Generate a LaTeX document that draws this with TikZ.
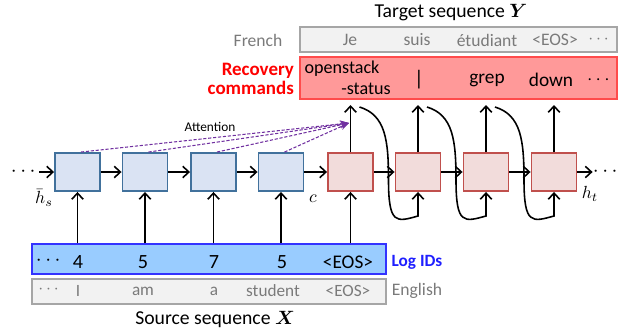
\documentclass[tikz,border=0pt]{standalone}
\usepackage{amsmath, amssymb}
\usepackage{fontspec}
\setmainfont{Carlito}
\usepackage{tikz}
\usetikzlibrary{arrows.meta}
\usetikzlibrary{positioning,calc}
\usepackage{xcolor}
\definecolor{encfill}{HTML}{DAE3F3}
\definecolor{encdraw}{HTML}{41719C}
\definecolor{decfill}{HTML}{F2DCDB}
\definecolor{decdraw}{HTML}{C0504D}
\definecolor{cmdfill}{HTML}{FF9999}
\definecolor{cmddraw}{HTML}{FF4B4B}
\definecolor{logfill}{HTML}{99CCFF}
\definecolor{logdraw}{HTML}{3333FF}
\definecolor{logtext}{HTML}{1F1FFF}
\definecolor{grayfill}{HTML}{F2F2F2}
\definecolor{graydraw}{HTML}{A6A6A6}
\definecolor{graytext}{HTML}{7A7A7A}
\definecolor{attnpurple}{HTML}{7030A0}

\begin{document}
\begin{tikzpicture}[x=0.02cm, y=-0.02cm]
  % Define styles for cells, boxes and arrows
  \tikzset{
    cell/.style={
      draw,
      rectangle,
      minimum width=0.9cm,
      minimum height=0.76cm,
      inner sep=0pt,
      line width=1.1pt
    },
    enccell/.style={cell, fill=encfill, draw=encdraw},
    deccell/.style={cell, fill=decfill, draw=decdraw},
    seqbox/.style={
      draw,
      rectangle,
      inner sep=0pt,
      line width=0.8pt
    },
    arr/.style={
      -{Straight Barb[length=3.5pt, width=6.5pt]},
      line width=0.9pt
    },
    attn/.style={
      draw=attnpurple,
      dash pattern=on 1.8pt off 1pt,
      line width=0.6pt,
      -{Stealth[length=5pt, width=4pt]}
    },
    word/.style={font=\fontsize{10pt}{12pt}\selectfont, text=graytext, inner sep=1pt},
    small word/.style={font=\fontsize{9.8pt}{11pt}\selectfont, text=graytext, inner sep=1pt},
    logid/.style={font=\fontsize{11.5pt}{13pt}\selectfont, inner sep=1pt},
    cmd/.style={font=\fontsize{11pt}{12pt}\selectfont, inner sep=1pt},
    label/.style={font=\fontsize{10pt}{11pt}\selectfont, inner sep=0.5pt},
    title/.style={font=\fontsize{11.2pt}{13pt}\selectfont, inner sep=1pt}
  }
  \useasboundingbox (0,0) rectangle (628,335);

  % Target side boxes
  \node[seqbox, fill=grayfill, draw=graydraw, minimum width=6.34cm, minimum height=0.5cm] (frbox) at (458.5,39.5) {};
  \node[seqbox, fill=cmdfill, draw=cmddraw, minimum width=6.34cm, minimum height=0.84cm] (cmdbox) at (458.5,78) {};
  \node[title] (ytitle) at (451,13) {Target sequence $\boldsymbol{Y}$};
  \node[word] (french) at (258,40) {French};
  \node[font=\fontsize{10.8pt}{11pt}\selectfont\bfseries, text=red, align=right, anchor=east, inner sep=1pt] (recovery) at (296,79) {Recovery\\commands};

  % French words
  \node[word] (je) at (350,40) {Je};
  \node[word] (suis) at (417,40) {suis};
  \node[word] (etudiant) at (487,40) {étudiant};
  \node[word] (freos) at (555,40) {<EOS>};
  \node[word] (frdots) at (600,40) {$\cdots$};

  % Recovery commands
  \node[cmd, font=\fontsize{10.3pt}{11pt}\selectfont] (openstack) at (342,69) {openstack};
  \node[cmd, font=\fontsize{10.3pt}{11pt}\selectfont] (status) at (366,89) {-status};
  \node[cmd, font=\fontsize{12pt}{13pt}\selectfont] (pipe) at (419,80) {|};
  \node[cmd] (grep) at (487,80) {grep};
  \node[cmd] (down) at (551,80) {down};
  \node[cmd] (cmddots) at (600,80) {$\cdots$};

  % Encoder and decoder cells
  \node[enccell] (enc1) at (77.5,172) {};
  \node[enccell] (enc2) at (145,172) {};
  \node[enccell] (enc3) at (213.5,172) {};
  \node[enccell] (enc4) at (281,172) {};
  \node[deccell] (dec1) at (350.5,172) {};
  \node[deccell] (dec2) at (418,172) {};
  \node[deccell] (dec3) at (486,172) {};
  \node[deccell] (dec4) at (554,172) {};

  % Dots at both ends and state labels
  \node[inner sep=0pt, font=\large] (ldots) at (25,172) {$\cdots$};
  \node[inner sep=0pt, font=\large] (rdots) at (607,172) {$\cdots$};
  \node[label] (hs) at (44,198) {$\bar{h}_s$};
  \node[label] (cvec) at (313,199) {$c$};
  \node[label] (ht) at (590,194) {$h_t$};

  % Recurrent connections
  \draw[arr] (ldots) -- (enc1);
  \draw[arr] (enc1) -- (enc2);
  \draw[arr] (enc2) -- (enc3);
  \draw[arr] (enc3) -- (enc4);
  \draw[arr] (enc4) -- (dec1);
  \draw[arr] (dec1) -- (dec2);
  \draw[arr] (dec2) -- (dec3);
  \draw[arr] (dec3) -- (dec4);
  \draw[arr] (dec4) -- (rdots);

  % Outputs of the decoder
  \coordinate (out1) at (350.5,105);
  \coordinate (out2) at (418,105);
  \coordinate (out3) at (486,105);
  \coordinate (out4) at (554,105);
  \draw[arr] (dec1.north) -- (out1);
  \draw[arr] (dec2.north) -- (out2);
  \draw[arr] (dec3.north) -- (out3);
  \draw[arr] (dec4.north) -- (out4);

  % Feed previous output back into the next cell
  \coordinate (fb1) at (359.5,107);
  \coordinate (fb2) at (427,107);
  \coordinate (fb3) at (495,107);
  \draw[arr] (fb1) .. controls (385.5,115) and (388.5,140) .. (388.5,180)
    .. controls (388.5,225) and (396.5,222) .. (418,216) -- (dec2.south);
  \draw[arr] (fb2) .. controls (453,115) and (456,140) .. (456,180)
    .. controls (456,225) and (464,222) .. (486,216) -- (dec3.south);
  \draw[arr] (fb3) .. controls (521,115) and (524,140) .. (524,180)
    .. controls (524,225) and (532,222) .. (554,216) -- (dec4.south);

  % Attention
  \coordinate (att) at (349,123);
  \node[font=\fontsize{7.6pt}{8pt}\selectfont, inner sep=1pt] (attlabel) at (210,127) {Attention};
  \draw[attn] ([xshift=2pt]enc1.north) -- (att);
  \draw[attn] ([xshift=2pt]enc2.north) -- (att);
  \draw[attn] ([xshift=2pt]enc3.north) -- (att);
  \draw[attn] ([xshift=2pt]enc4.north) -- (att);

  % Source side boxes
  \node[seqbox, fill=logfill, draw=logdraw, minimum width=7.08cm, minimum height=0.6cm] (logbox) at (209,259) {};
  \node[seqbox, fill=grayfill, draw=graydraw, minimum width=7.08cm, minimum height=0.5cm] (enbox) at (209,291.5) {};
  \node[font=\fontsize{9.8pt}{11pt}\selectfont\bfseries, text=logtext, inner sep=1pt] (logids) at (417,262) {Log IDs};
  \node[word] (english) at (417,291) {English};
  \node[title] (xtitle) at (215,319) {Source sequence $\boldsymbol{X}$};

  % Log IDs
  \node[logid] (logdots) at (50,261) {$\cdots$};
  \node[logid] (id1) at (78,262) {4};
  \node[logid] (id2) at (143,262) {5};
  \node[logid] (id3) at (214,262) {7};
  \node[logid] (id4) at (282,262) {5};
  \node[logid, font=\fontsize{11pt}{12pt}\selectfont] (ideos) at (348,262) {<EOS>};

  % English words
  \node[small word] (endots) at (50,290) {$\cdots$};
  \node[small word] (wi) at (78,291) {I};
  \node[small word] (wam) at (143,291) {am};
  \node[small word] (wa) at (214,291) {a};
  \node[small word] (wstudent) at (273,291) {student};
  \node[small word] (eneos) at (348,291) {<EOS>};

  % Inputs into the cells
  \draw[arr] (logbox.north -| enc1) -- (enc1.south);
  \draw[arr] (logbox.north -| enc2) -- (enc2.south);
  \draw[arr] (logbox.north -| enc3) -- (enc3.south);
  \draw[arr] (logbox.north -| enc4) -- (enc4.south);
  \draw[arr] (logbox.north -| dec1) -- (dec1.south);
\end{tikzpicture}
\end{document}
